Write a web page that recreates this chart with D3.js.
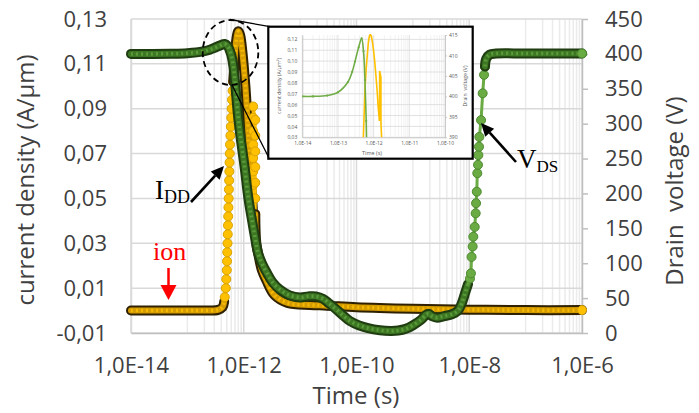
<!DOCTYPE html>
<html><head><meta charset="utf-8">
<script src="https://cdn.jsdelivr.net/npm/d3@7/dist/d3.min.js"></script>
<style>body{margin:0;background:#fff}svg{display:block}</style>
</head><body>
<svg id="c" width="699" height="413"></svg>
<script>
// ---------- tick values & labels ----------
const xTicks = [1e-14, 1e-12, 1e-10, 1e-8, 1e-6];
const xTickLabels = ["1,0E-14", "1,0E-12", "1,0E-10", "1,0E-8", "1,0E-6"];
const yLeftTicks = [-0.01, 0.01, 0.03, 0.05, 0.07, 0.09, 0.11, 0.13];
const yLeftLabels = ["-0,01", "0,01", "0,03", "0,05", "0,07", "0,09", "0,11", "0,13"];
const yRightTicks = [0, 50, 100, 150, 200, 250, 300, 350, 400, 450];
const yRightLabels = ["0", "50", "100", "150", "200", "250", "300", "350", "400", "450"];
const insetXTicks = [1e-14, 1e-13, 1e-12, 1e-11, 1e-10];
const insetXLabels = ["1,0E-14", "1,0E-13", "1,0E-12", "1,0E-11", "1,0E-10"];
const insetLeftTicks = [0.03, 0.04, 0.05, 0.06, 0.07, 0.08, 0.09, 0.10, 0.11, 0.12];
const insetLeftLabels = ["0,03", "0,04", "0,05", "0,06", "0,07", "0,08", "0,09", "0,10", "0,11", "0,12"];
const insetRightTicks = [390, 395, 400, 405, 410, 415];
const insetRightLabels = ["390", "395", "400", "405", "410", "415"];

// ---------- I_DD current density (A/um) : [time s, value] ----------
const iddFlat = [[1e-14,0],[3e-14,0],[1e-13,0],[2e-13,0],[3.5e-13,0.0003],[4.2e-13,0.0015],[4.5e-13,0.004]];
const iddRise = [[4.6e-13,0.006],[4.8e-13,0.010],[4.9e-13,0.014],[5.0e-13,0.018],[5.05e-13,0.022],[5.1e-13,0.026],
  [5.15e-13,0.030],[5.2e-13,0.034],[5.25e-13,0.038],[5.3e-13,0.042],[5.35e-13,0.046],[5.4e-13,0.050],
  [5.45e-13,0.054],[5.5e-13,0.058],[5.55e-13,0.062],[5.6e-13,0.066],[5.65e-13,0.070],[5.7e-13,0.074],
  [5.8e-13,0.078],[5.9e-13,0.082],[6.0e-13,0.086],[6.1e-13,0.090],[6.2e-13,0.094],[6.35e-13,0.098],[6.5e-13,0.102]];
const iddPeak = [[6.7e-13,0.107],[6.9e-13,0.112],[7.1e-13,0.117],[7.4e-13,0.121],[7.7e-13,0.1235],[8e-13,0.1245],
  [8.6e-13,0.123],[9.3e-13,0.117],[1e-12,0.109],[1.07e-12,0.100],[1.15e-12,0.088],[1.25e-12,0.073],
  [1.34e-12,0.058],[1.45e-12,0.045]];
const iddSpike = [[1.47e-12,0.050],[1.47e-12,0.056],[1.47e-12,0.062],[1.47e-12,0.068],[1.47e-12,0.074],[1.47e-12,0.080],
  [1.47e-12,0.086],[1.47e-12,0.091],[1.6e-12,0.085],[1.6e-12,0.078],[1.6e-12,0.071],[1.6e-12,0.064],
  [1.6e-12,0.057],[1.6e-12,0.050],[1.6e-12,0.043]];
const iddTail = [[1.67e-12,0.030],[1.85e-12,0.024],[2.1e-12,0.018],[2.5e-12,0.0136],[3.5e-12,0.0069],[6e-12,0.0034],
  [1.5e-11,0.0025],[3e-11,0.0022],[1e-10,0.0015],[1e-9,0.0008],[1e-8,0.0004],[1e-7,0.0002],[1e-6,0.0002]];

// ---------- V_DS drain voltage (V) : [time s, value] ----------
const vdsMain = [[1e-14,400],[2e-14,400],[5e-14,400.2],[1e-13,401],[1.9e-13,403.5],[2.5e-13,406],[3e-13,408.5],
  [3.8e-13,412],[4.6e-13,414.2],[5.2e-13,411],[5.7e-13,404],[6.2e-13,394],[6.6e-13,380],[7e-13,360],[7.9e-13,312],
  [8.8e-13,280],[9.7e-13,255],[1.05e-12,234],[1.2e-12,195],[1.4e-12,162],[1.6e-12,135],[1.79e-12,115],[2.1e-12,100],
  [2.58e-12,86],[3.3e-12,72],[4.4e-12,62],[6.5e-12,54],[1e-11,51],[1.4e-11,52.5],[1.9e-11,52.5],[2.55e-11,49],
  [3.3e-11,42],[4.5e-11,33],[6e-11,24],[7.7e-11,17],[1.1e-10,11],[1.6e-10,7],[2.6e-10,4],[4e-10,3],[5.5e-10,3.5],
  [7.5e-10,6],[1e-9,11],[1.4e-9,19],[1.7e-9,26],[1.9e-9,27.5],[2.2e-9,24],[2.7e-9,22],[3.5e-9,24],[5e-9,27],
  [6.3e-9,32],[7.4e-9,43],[8.5e-9,58],[9.5e-9,70]];
const vdsRise = [[1.03e-8,78],[1.07e-8,85.5],[1.10e-8,109],[1.15e-8,124],[1.18e-8,138],[1.25e-8,152],[1.30e-8,171.5],
  [1.32e-8,186],[1.36e-8,202.5],[1.39e-8,229],[1.43e-8,241],[1.45e-8,255],[1.49e-8,267],[1.51e-8,281],
  [1.62e-8,305],[1.73e-8,343.5],[1.83e-8,370],[1.90e-8,382]];
const vdsTop = [[2.0e-8,393],[2.3e-8,399],[3e-8,400.5],[1e-7,400.5],[1e-6,400.5]];

// ---------- layout ----------
const svg = d3.select("#c");
const L = 131, R = 582, T = 19, B = 333;
const x = d3.scaleLog().domain([1e-14, 1e-6]).range([L, R]);
const yL = d3.scaleLinear().domain([-0.01, 0.13]).range([B, T]);
const yR = d3.scaleLinear().domain([0, 450]).range([B, T]);
const FONT = "'Open Sans', 'DejaVu Sans', sans-serif";
const TXT = "#404040";

// gridlines
const minor = x.ticks().filter(t => {
  const e = Math.floor(Math.log10(t) + 1e-9);
  return e % 2 !== 0;
});
const grid = svg.append("g");
grid.selectAll(".mn").data(minor).join("line")
  .attr("x1", d => x(d)).attr("x2", d => x(d)).attr("y1", T).attr("y2", B)
  .attr("stroke", "#ebebeb").attr("stroke-width", 1.5);
grid.selectAll(".mj").data(xTicks).join("line")
  .attr("x1", d => x(d)).attr("x2", d => x(d)).attr("y1", T).attr("y2", B)
  .attr("stroke", "#d9d9d9").attr("stroke-width", 1.5);
grid.selectAll(".hz").data(yLeftTicks).join("line")
  .attr("x1", L).attr("x2", R).attr("y1", d => yL(d)).attr("y2", d => yL(d))
  .attr("stroke", "#d9d9d9").attr("stroke-width", 1.5);

// axes
function styleAxis(g, size) {
  g.selectAll("text").attr("font-family", FONT).attr("font-size", size).attr("fill", TXT);
  g.selectAll(".domain").attr("stroke", "#bfbfbf").attr("stroke-width", 1.5);
  g.selectAll(".tick line").attr("stroke", "#bfbfbf").attr("stroke-width", 1.5);
}
const axL = svg.append("g").attr("transform", `translate(${L},0)`)
  .call(d3.axisLeft(yL).tickValues(yLeftTicks).tickFormat((d, i) => yLeftLabels[i]).tickSize(0).tickPadding(24));
styleAxis(axL, 22);
axL.select(".domain").attr("stroke", "#d9d9d9");
const axR = svg.append("g").attr("transform", `translate(${R},0)`)
  .call(d3.axisRight(yR).tickValues(yRightTicks).tickFormat((d, i) => yRightLabels[i]).tickSize(6).tickPadding(17).tickSizeOuter(0));
styleAxis(axR, 22);
const axB = svg.append("g").attr("transform", `translate(0,${B})`)
  .call(d3.axisBottom(x).tickValues(xTicks).tickFormat((d, i) => xTickLabels[i]).tickSize(0).tickPadding(24).tickSizeOuter(0));
styleAxis(axB, 22);

// axis titles
svg.append("text").attr("transform", "translate(34,180) rotate(-90)").attr("text-anchor", "middle")
  .attr("font-family", FONT).attr("font-size", 24).attr("fill", TXT).text("current density (A/µm)");
svg.append("text").attr("transform", "translate(683,191) rotate(-90)").attr("text-anchor", "middle")
  .attr("font-family", FONT).attr("font-size", 24).attr("fill", TXT).style("white-space", "pre").text("Drain  voltage (V)");
svg.append("text").attr("x", 356).attr("y", 404).attr("text-anchor", "middle")
  .attr("font-family", FONT).attr("font-size", 24).attr("fill", TXT).text("Time (s)");

// ---------- series drawing ----------
function drawSeries(g, segments, y, st) {
  let prev = null;
  const bandLine = d3.line().x(d => x(d[0])).y(d => y(d[1])).curve(d3.curveCatmullRom.alpha(0.5));
  const thinLine = d3.line().x(d => x(d[0])).y(d => y(d[1]));
  segments.forEach(([pts, kind]) => {
    const data = prev ? [prev, ...pts] : pts;
    if (kind === "band") {
      g.append("path").attr("d", bandLine(data)).attr("fill", "none").attr("stroke", st.dark)
        .attr("stroke-width", 10).attr("stroke-linecap", "round").attr("stroke-linejoin", "round");
      g.append("path").attr("d", bandLine(data)).attr("fill", "none").attr("stroke", st.mid)
        .attr("stroke-width", 6).attr("stroke-linecap", "round").attr("stroke-linejoin", "round");
      g.append("path").attr("d", bandLine(data)).attr("fill", "none").attr("stroke", st.light)
        .attr("stroke-width", 3.5).attr("stroke-dasharray", "2,3").attr("opacity", 0.8);
    } else {
      g.append("path").attr("d", thinLine(data)).attr("fill", "none").attr("stroke", st.fill).attr("stroke-width", 3);
      g.selectAll(null).data(pts).join("circle").attr("cx", d => x(d[0])).attr("cy", d => y(d[1])).attr("r", 4.5)
        .attr("fill", st.fill).attr("stroke", st.edge).attr("stroke-width", 1);
    }
    prev = pts[pts.length - 1];
  });
  // end marker
  const last = segments[segments.length - 1][0];
  const e = last[last.length - 1];
  g.append("circle").attr("cx", x(e[0])).attr("cy", y(e[1])).attr("r", 4.5).attr("fill", st.fill).attr("stroke", st.edge);
}
const orangeSt = {dark: "#2e2000", mid: "#d59c00", light: "#ffc000", fill: "#ffc000", edge: "#d9a300"};
const greenSt = {dark: "#1f3d10", mid: "#3e7724", light: "#62a53e", fill: "#6aab44", edge: "#4d8a30"};
drawSeries(svg.append("g"), [[iddFlat, "band"], [iddRise, "sparse"], [iddPeak, "band"], [iddSpike, "sparse"], [iddTail, "band"]], yL, orangeSt);
drawSeries(svg.append("g"), [[vdsMain, "band"], [vdsRise, "sparse"], [vdsTop, "band"]], yR, greenSt);

// ---------- zoom circle & connectors ----------
svg.append("ellipse").attr("cx", 230.5).attr("cy", 52.5).attr("rx", 27.8).attr("ry", 32.5)
  .attr("fill", "none").attr("stroke", "#000").attr("stroke-width", 1.8).attr("stroke-dasharray", "6,4");
svg.append("line").attr("x1", 230).attr("y1", 19.5).attr("x2", 270).attr("y2", 26.7).attr("stroke", "#000").attr("stroke-width", 1.3);
svg.append("line").attr("x1", 232).attr("y1", 85).attr("x2", 268.5).attr("y2", 157).attr("stroke", "#000").attr("stroke-width", 1.3);

// ---------- inset ----------
const inset = svg.append("g");
inset.append("rect").attr("x", 268.3).attr("y", 26.7).attr("width", 204.4).attr("height", 132)
  .attr("fill", "#fff").attr("stroke", "#000").attr("stroke-width", 2.2);
const iL = 302.3, iR = 445, iT = 35, iB = 137.3;
const ix = d3.scaleLog().domain([1e-14, 1e-10]).range([iL, iR]);
const iyL = d3.scaleLinear().domain([0.03, 0.124]).range([iB, iT]);
const iyR = d3.scaleLinear().domain([390, 415]).range([iB, iT]);
const iMinor = ix.ticks().filter(t => insetXTicks.every(m => Math.abs(m - t) / m > 1e-6));
inset.selectAll(".imn").data(iMinor).join("line")
  .attr("x1", d => ix(d)).attr("x2", d => ix(d)).attr("y1", iT).attr("y2", iB).attr("stroke", "#ececec").attr("stroke-width", 0.7);
inset.selectAll(".imj").data(insetXTicks).join("line")
  .attr("x1", d => ix(d)).attr("x2", d => ix(d)).attr("y1", iT).attr("y2", iB).attr("stroke", "#d9d9d9").attr("stroke-width", 0.8);
inset.selectAll(".ihz").data(insetLeftTicks).join("line")
  .attr("x1", iL).attr("x2", iR).attr("y1", d => iyL(d)).attr("y2", d => iyL(d)).attr("stroke", "#d9d9d9").attr("stroke-width", 0.8);
function styleInset(g) {
  g.selectAll("text").attr("font-family", FONT).attr("font-size", 5).attr("fill", "#595959");
  g.selectAll(".domain").attr("stroke", "#bfbfbf").attr("stroke-width", 0.8);
  g.selectAll(".tick line").attr("stroke", "#bfbfbf").attr("stroke-width", 0.8);
}
styleInset(inset.append("g").attr("transform", `translate(${iL},0)`)
  .call(d3.axisLeft(iyL).tickValues(insetLeftTicks).tickFormat((d, i) => insetLeftLabels[i]).tickSize(0).tickPadding(5)));
styleInset(inset.append("g").attr("transform", `translate(${iR},0)`)
  .call(d3.axisRight(iyR).tickValues(insetRightTicks).tickFormat((d, i) => insetRightLabels[i]).tickSize(2).tickPadding(2).tickSizeOuter(0)));
styleInset(inset.append("g").attr("transform", `translate(0,${iB})`)
  .call(d3.axisBottom(ix).tickValues(insetXTicks).tickFormat((d, i) => insetXLabels[i]).tickSize(0).tickPadding(4).tickSizeOuter(0)));
inset.append("text").attr("transform", `translate(281,86) rotate(-90)`).attr("text-anchor", "middle")
  .attr("font-family", FONT).attr("font-size", 5.2).attr("fill", "#595959").text("current density (A/µm²)");
inset.append("text").attr("transform", `translate(467,86) rotate(-90)`).attr("text-anchor", "middle")
  .attr("font-family", FONT).attr("font-size", 5.2).attr("fill", "#595959").style("white-space", "pre").text("Drain  voltage (V)");
inset.append("text").attr("x", 372).attr("y", 155).attr("text-anchor", "middle")
  .attr("font-family", FONT).attr("font-size", 5.5).attr("fill", "#595959").text("Time (s)");
svg.append("clipPath").attr("id", "ic").append("rect").attr("x", iL).attr("y", iT - 1).attr("width", iR - iL).attr("height", iB - iT + 1);
const ip = inset.append("g").attr("clip-path", "url(#ic)");
const iddAll = [...iddFlat, ...iddRise, ...iddPeak, ...iddSpike, ...iddTail];
const vdsAll = [...vdsMain, ...vdsRise, ...vdsTop];
ip.append("path").attr("d", d3.line().x(d => ix(d[0])).y(d => iyL(d[1]))(iddAll))
  .attr("fill", "none").attr("stroke", "#ffc000").attr("stroke-width", 1.6);
ip.append("path").attr("d", d3.line().x(d => ix(d[0])).y(d => iyR(d[1])).curve(d3.curveCatmullRom.alpha(0.5))(vdsAll))
  .attr("fill", "none").attr("stroke", "#70ad47").attr("stroke-width", 1.6);
ip.selectAll(".gm").data(vdsAll).join("circle").attr("cx", d => ix(d[0])).attr("cy", d => iyR(d[1])).attr("r", 1.1).attr("fill", "#70ad47");

// ---------- annotations ----------
function arrow(x1, y1, x2, y2, color, w, hl, hw) {
  const a = Math.atan2(y2 - y1, x2 - x1);
  const bx = x2 - hl * Math.cos(a), by = y2 - hl * Math.sin(a);
  svg.append("line").attr("x1", x1).attr("y1", y1).attr("x2", bx).attr("y2", by).attr("stroke", color).attr("stroke-width", w);
  const px = -Math.sin(a) * hw / 2, py = Math.cos(a) * hw / 2;
  svg.append("polygon").attr("points", `${x2},${y2} ${bx + px},${by + py} ${bx - px},${by - py}`).attr("fill", color);
}
const SERIF = "'Liberation Serif', 'Times New Roman', serif";
const idd = svg.append("text").attr("x", 155).attr("y", 199).attr("font-family", SERIF).attr("font-size", 27).attr("fill", "#000");
idd.append("tspan").text("I");
idd.append("tspan").attr("font-size", 18).attr("dy", 4).text("DD");
arrow(191, 202, 224, 166, "#000", 2.6, 13, 12);
const vds = svg.append("text").attr("x", 517).attr("y", 168).attr("font-family", SERIF).attr("font-size", 27).attr("fill", "#000");
vds.append("tspan").text("V");
vds.append("tspan").attr("font-size", 17).attr("dy", 4).text("DS");
arrow(516, 162, 481, 123, "#000", 2.6, 13, 12);
svg.append("text").attr("x", 153).attr("y", 260).attr("font-family", SERIF).attr("font-size", 26).attr("fill", "#ff0000").text("ion");
arrow(168.5, 268, 168.5, 300, "#ff0000", 2.5, 15, 16);
</script>
</body></html>
